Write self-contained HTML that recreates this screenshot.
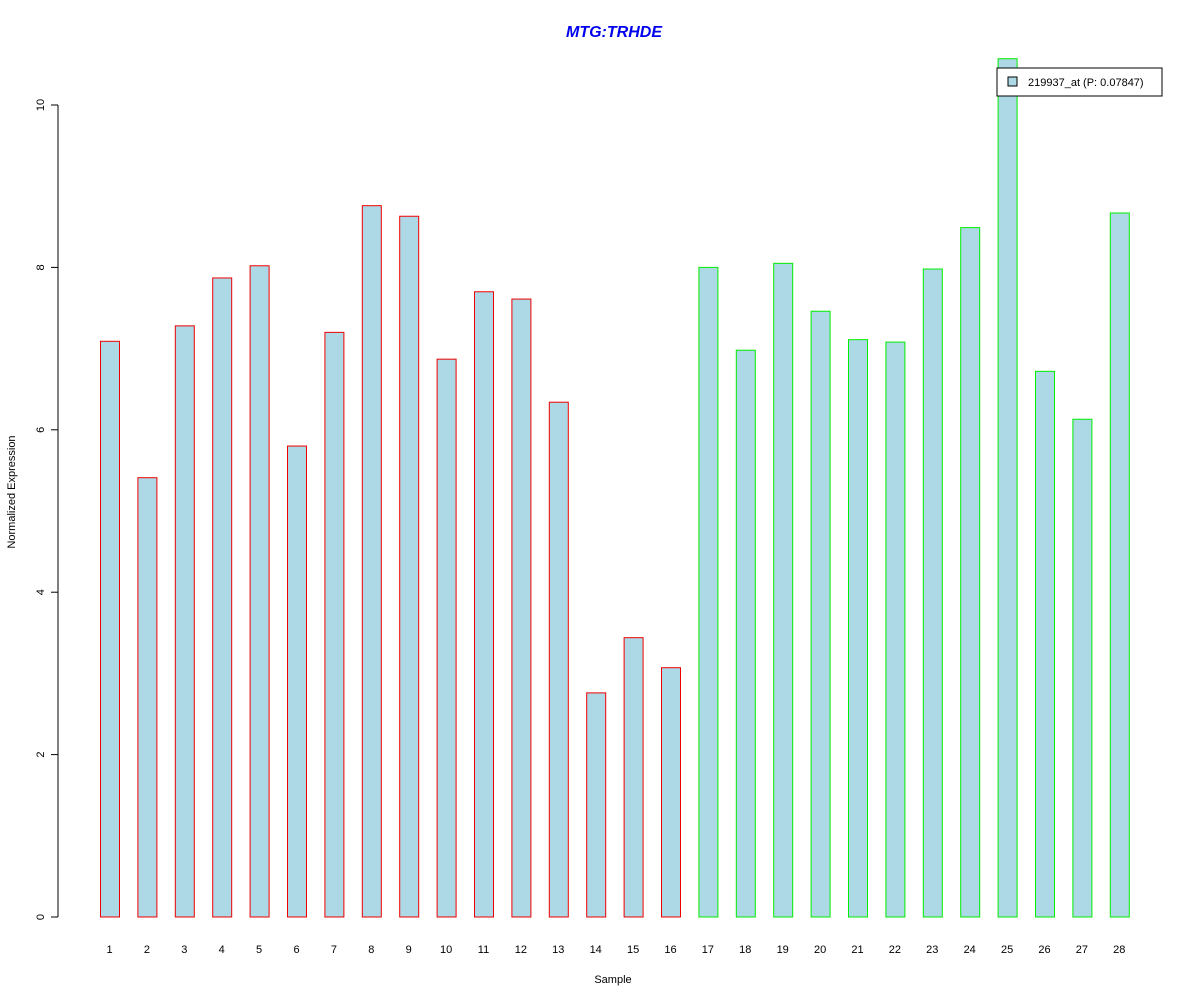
<!DOCTYPE html>
<html><head><meta charset="utf-8"><style>
body{margin:0;background:#fff}
svg text{font-family:"Liberation Sans",Arial,sans-serif}
</style></head><body>
<svg id="chart" width="1200" height="1000">
<rect width="1200" height="1000" fill="#fff"/>
<text x="614" y="37" text-anchor="middle" font-size="16" font-weight="bold" font-style="italic" fill="#0000ee">MTG:TRHDE</text>
<g id="yaxis"></g>
<g id="bars"></g>
<g id="xlabels"></g>
<text x="613" y="983" text-anchor="middle" font-size="11">Sample</text>
<text transform="translate(15,492) rotate(-90)" text-anchor="middle" font-size="11">Normalized Expression</text>
<g>
<rect x="997" y="68" width="165" height="28" fill="#fff" stroke="#000"/>
<rect x="1008" y="77" width="9" height="9" fill="#add8e6" stroke="#000"/>
<text x="1028" y="86" font-size="11">219937_at (P: 0.07847)</text>
</g>
</svg>
<script>
const categories=["1","2","3","4","5","6","7","8","9","10","11","12","13","14","15","16","17","18","19","20","21","22","23","24","25","26","27","28"];
const values=[7.09,5.41,7.28,7.87,8.02,5.80,7.20,8.76,8.63,6.87,7.70,7.61,6.34,2.76,3.44,3.07,8.00,6.98,8.05,7.46,7.11,7.08,7.98,8.49,10.57,6.72,6.13,8.67];
const groups=[0,0,0,0,0,0,0,0,0,0,0,0,0,0,0,0,1,1,1,1,1,1,1,1,1,1,1,1];
const yTicks=[0,2,4,6,8,10];
const ns="http://www.w3.org/2000/svg";
const y=v=>917-v*81.2;
const x=i=>100+i*37.4;
const bw=19;
function mk(t,a,p){const e=document.createElementNS(ns,t);for(const k in a)e.setAttribute(k,a[k]);p.appendChild(e);return e;}
const ya=document.getElementById('yaxis');
mk('line',{x1:58,x2:58,y1:y(0),y2:y(10),stroke:'#000'},ya);
yTicks.forEach(t=>{
 const l=mk('line',{x1:51,x2:58,y1:y(t),y2:y(t),stroke:'#000'},ya);
 
 
 const tx=mk('text',{transform:`translate(44,${y(t)}) rotate(-90)`,'text-anchor':'middle','font-size':11},ya);
 tx.textContent=t;
 
 
});
const bg=document.getElementById('bars'),xl=document.getElementById('xlabels');
values.forEach((v,i)=>{
 const r=mk('rect',{x:x(i)+0.5,y:y(v),width:bw,height:y(0)-y(v),fill:'#add8e6',stroke:groups[i]?'#00ee00':'#ee0000'},bg);
 
 
 const t=mk('text',{x:x(i)+bw/2,y:953,'text-anchor':'middle','font-size':11},xl);
 t.textContent=categories[i];
 
 
});
</script>
</body></html>
